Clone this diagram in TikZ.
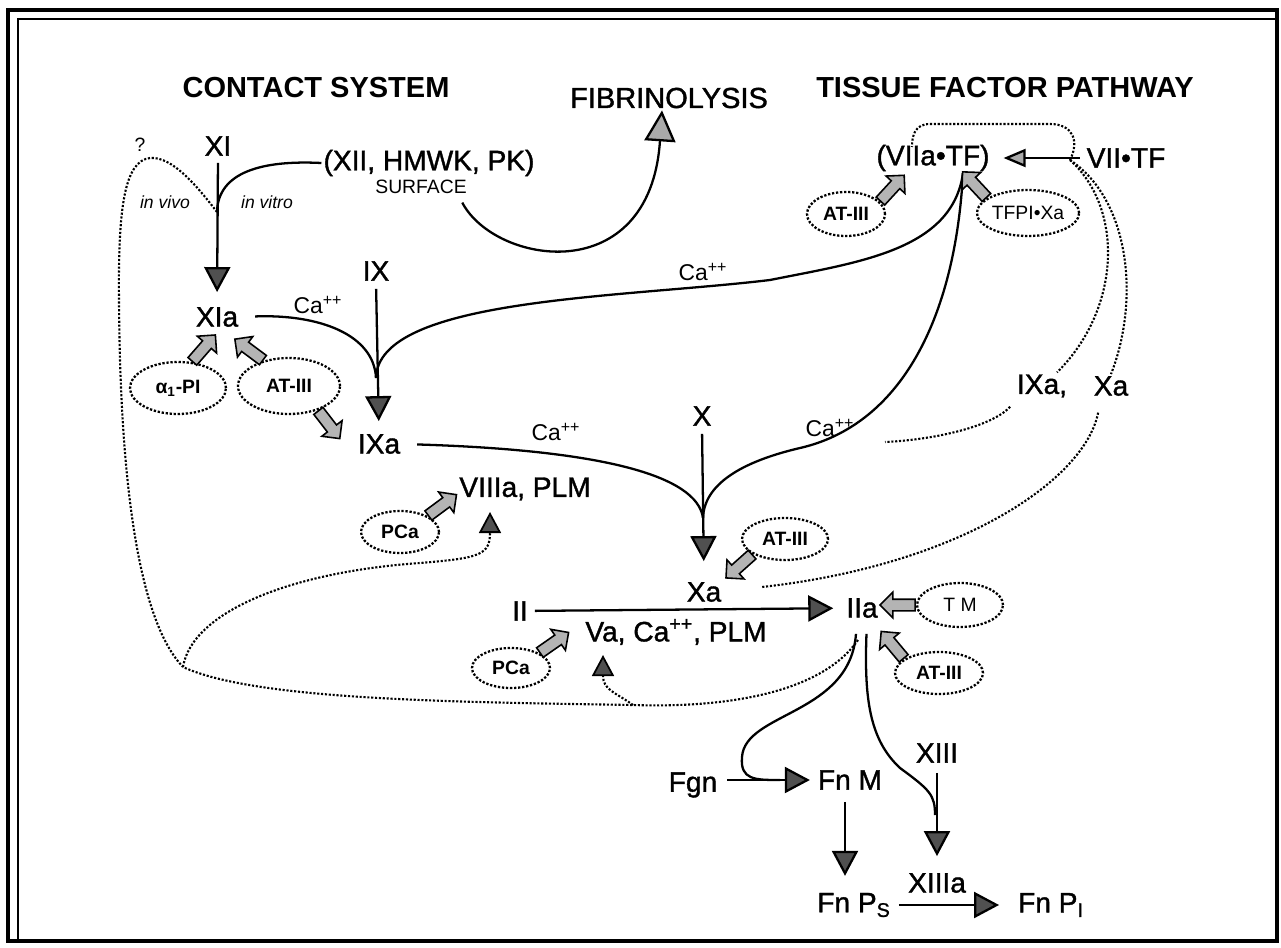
\documentclass[tikz,border=0pt]{standalone}
\usepackage{fontspec}
\setmainfont{Liberation Sans}
\newfontfamily\medfont{Liberation Sans}[FakeBold=1.3]
\usetikzlibrary{arrows.meta,shapes.geometric,shapes.arrows}
\definecolor{tipD}{RGB}{80,80,80}
\definecolor{tipL}{RGB}{170,170,170}
\definecolor{hatchG}{RGB}{180,180,180}

\begin{document}
\begin{tikzpicture}[x=0.2mm,y=-0.2mm,>={Triangle[length=5mm,width=5.2mm,fill=tipD]},
  lbl/.style={font=\medfont\fontsize{16}{18}\selectfont,inner sep=1pt},
  hd/.style={font=\fontsize{16.5}{19}\selectfont\bfseries,inner sep=1pt},
  ca/.style={font=\fontsize{13}{15}\selectfont,inner sep=1pt},
  inh/.style={ellipse,draw,densely dotted,line width=1.3pt,inner sep=0pt,font=\fontsize{11}{13}\selectfont\bfseries},
  ln/.style={line width=1.3pt},
  act/.style={line width=1.3pt,->},
  fb/.style={densely dotted,line width=1.2pt},
  fbT/.style={fb,-{Triangle[length=4.2mm,width=4.4mm,fill=tipD,line width=1pt]}},
  blk/.style={single arrow,draw,fill=hatchG,line width=0.9pt,minimum height=7mm,inner xsep=0pt,inner ysep=1mm,
    single arrow head extend=1.4mm,sloped,allow upside down,anchor=tail,pos=0}]
\useasboundingbox (0,0) rectangle (1281,947);
% frame
\draw[line width=0.7mm] (8,10) rectangle (1277,941);
\draw[line width=0.45mm] (18,940) -- (18,19) -- (1276,19);

% headings
\node[hd] (cs) at (316,88) {CONTACT SYSTEM};
\node[lbl,font=\medfont\fontsize{16.5}{19}\selectfont] (fib) at (669,98) {FIBRINOLYSIS};
\node[hd] (tfp) at (1005,88) {TISSUE FACTOR PATHWAY};

% factors
\node[lbl] (xi) at (218,146) {XI};
\node[lbl] (xii) at (429,163) {(XII, HMWK, PK)};
\node[font=\fontsize{11}{13}\selectfont,inner sep=1pt] (surf) at (421,187) {SURFACE};
\node[font=\fontsize{11}{13}\selectfont] (qm) at (140,145) {?};
\node[font=\fontsize{10}{12}\selectfont\itshape] (viv) at (165,202) {in vivo};
\node[font=\fontsize{10}{12}\selectfont\itshape] (vit) at (267,202) {in vitro};
\node[lbl] (xia) at (217,317) {XIa};
\node[lbl] (ix) at (376,271) {IX};
\node[lbl] (ixa) at (379,444) {IXa};
\node[lbl] (viia) at (933,158) {(VIIa•TF)};
\node[lbl] (vii) at (1126,158) {VII•TF};
\node[lbl] (ixa2) at (1042,386) {IXa,};
\node[lbl] (xa2) at (1111,386) {Xa};
\node[lbl] (x) at (702,416) {X};
\node[lbl] (xa) at (704,592) {Xa};
\node[lbl] (viiia) at (525,489) {VIIIa, PLM};
\node[lbl] (va) at (676,632) {Va, Ca\textsuperscript{++}, PLM};
\node[lbl] (ii) at (520,611) {II};
\node[lbl] (iia) at (862,608) {IIa};
\node[lbl] (fgn) at (693,785) {Fgn};
\node[lbl] (fnm) at (850,780) {Fn M};
\node[lbl] (xiii) at (937,753) {XIII};
\node[lbl] (fnps) at (854,905) {Fn P\textsubscript{S}};
\node[lbl] (xiiia) at (937,883) {XIIIa};
\node[lbl] (fnpi) at (1051,905) {Fn P\textsubscript{I}};
\node[ca] (ca1) at (318,305) {Ca\textsuperscript{++}};
\node[ca] (ca2) at (703,272) {Ca\textsuperscript{++}};
\node[ca] (ca3) at (556,432) {Ca\textsuperscript{++}};
\node[ca] (ca4) at (830,428) {Ca\textsuperscript{++}};

% inhibitors
\node[inh,minimum width=19.2mm,minimum height=10.4mm] (api) at (178,388) {α\textsubscript{1}-PI};
\node[inh,minimum width=20.4mm,minimum height=11.2mm] (at1) at (289,386) {AT-III};
\node[inh,minimum width=15.6mm,minimum height=8.8mm] (at2) at (846,214) {AT-III};
\node[inh,minimum width=20mm,minimum height=9.2mm,font=\fontsize{11}{13}\selectfont] (tfpi) at (1028,213) {TFPI•Xa};
\node[inh,minimum width=17.2mm,minimum height=8.4mm] (at3) at (785,539) {AT-III};
\node[inh,minimum width=15.6mm,minimum height=8.4mm] (pca1) at (400,532) {PCa};
\node[inh,minimum width=15.6mm,minimum height=8mm] (pca2) at (511,668) {PCa};
\node[inh,minimum width=17.2mm,minimum height=8.8mm,font=\fontsize{11}{13}\selectfont] (tm) at (960,605) {T M};
\node[inh,minimum width=17.6mm,minimum height=8.4mm] (at4) at (939,673) {AT-III};

% junctions
\coordinate (jxi) at (217,212);
\coordinate (jix) at (376,378);
\coordinate (jx) at (703,518);
\coordinate (jvii) at (1070,160);
\coordinate (jfm) at (780,780);
\coordinate (jxiii) at (935,815);
\coordinate (crn) at (183,667);
\coordinate (jva) at (633,705);
\coordinate (iafb) at (858,640);
\coordinate (xafb) at (762,587);
\coordinate (ixfb) at (885,442);
\coordinate (loopend) at (912,147);

% cascade
\draw[act,shorten <=1mm,shorten >=2.6mm] (xi.south) -- (xia.north);
\draw[ln] (xii.west) .. controls (262,160) and (218,172) .. (jxi);
\draw[ln,shorten <=3mm] (xia.east) .. controls (320,314) and (374,335) .. (jix);
\draw[act,shorten <=1.2mm,shorten >=2.2mm] (ix.south) -- (ixa.north);
\draw[ln] ([xshift=6mm]viia.south) .. controls (952,250) and (860,262) .. (770,280)
  .. controls (620,298) and (378,298) .. (jix);
\draw[ln] ([xshift=6mm]viia.south) .. controls (955,320) and (900,425) .. (800,448)
  .. controls (740,462) and (704,485) .. (jx);
\draw[ln,shorten <=3mm] (ixa.east) .. controls (600,450) and (697,475) .. (jx);
\draw[act,shorten <=1.2mm,shorten >=3.8mm] (x.south) -- (xa.north);
\draw[act,shorten <=1mm,shorten >=2.2mm] (ii) -- (iia);
\draw[ln,shorten <=1.5mm,-{Triangle[length=6.2mm,width=6.2mm,fill=tipL]}]
  ([xshift=-2mm]surf.south east) .. controls (495,265) and (650,290) .. ([xshift=-1.4mm]fib.south);
\draw[ln,shorten <=1mm,shorten >=2.4mm,-{Triangle[length=4.4mm,width=3.6mm,fill=tipL]}] (vii) -- (viia);

% fibrin formation
\draw[act,shorten <=1.6mm,shorten >=1.2mm] (fgn.east |- fnm) -- (fnm.west);
\draw[ln,shorten <=2.8mm] ([xshift=-1mm]iia.south) .. controls (850,715) and (745,712) .. (742,757)
  .. controls (740,780) and (755,780) .. (jfm);
\draw[ln,shorten <=2.8mm] ([xshift=1mm]iia.south) .. controls (864,700) and (870,740) .. (900,768)
  .. controls (930,790) and (935,795) .. (jxiii);
\draw[act,shorten <=1.6mm,shorten >=3mm] (xiii.south) -- (xiiia.north);
\draw[act,shorten <=2mm,shorten >=3mm] ([xshift=-1mm]fnm.south) -- ([xshift=-1mm]fnm.south |- fnps.north);
\draw[act,shorten <=1.2mm,shorten >=3.4mm] (fnps) -- (fnpi);

% feedback
\draw[fb] (jxi) .. controls (197,186) and (172,156) .. (150,158) .. controls (125,161) and (118,205) .. (119,300)
  .. controls (120,480) and (138,620) .. (crn);
\draw[fb] (iafb) .. controls (820,695) and (720,708) .. (jva) .. controls (450,702) and (255,700) .. (crn);
\draw[fbT] (crn) .. controls (192,612) and (290,572) .. (420,563) .. controls (480,558) and (490,555) .. (490,512);
\draw[fbT] (jva) .. controls (615,692) and (603,690) .. (603,655);
\draw[fb,shorten <=3mm] ([xshift=-2mm]xa2.south) .. controls (1085,480) and (960,565) .. (xafb);
\draw[fb,shorten <=2mm] ([xshift=-5mm]ixa2.south) .. controls (990,428) and (930,440) .. (ixfb);
\draw[fb] (jvii) .. controls (1130,200) and (1140,300) .. (xa2.north);
\draw[fb] (jvii) .. controls (1125,210) and (1120,310) .. ([xshift=3mm]ixa2.north);
\draw[fb] (jvii) .. controls (1080,140) and (1072,124) .. (1050,124) -- (930,124)
  .. controls (915,124) and (912,135) .. (loopend);

% inhibitor arrows
\coordinate (t1) at (211,340);
\coordinate (t2) at (236,340);
\coordinate (t3) at (337,435);
\coordinate (t4) at (452,498);
\coordinate (t5) at (898,182);
\coordinate (t6) at (972,182);
\coordinate (t7) at (727,577);
\coordinate (t8) at (565,635);
\coordinate (t9) at (883,605);
\coordinate (t10) at (885,636);
\path (api.62) -- (t1) node[blk] {};
\path (at1.135) -- (t2) node[blk] {};
\path (at1.-40) -- (t3) node[blk] {};
\path (pca1.30) -- (t4) node[blk] {};
\path (at2.20) -- (t5) node[blk] {};
\path (tfpi.160) -- (t6) node[blk] {};
\path (at3.205) -- (t7) node[blk] {};
\path (pca2.28) -- (t8) node[blk] {};
\path (tm.west) -- (t9) node[blk] {};
\path (at4.158) -- (t10) node[blk] {};
\end{tikzpicture}
\end{document}
